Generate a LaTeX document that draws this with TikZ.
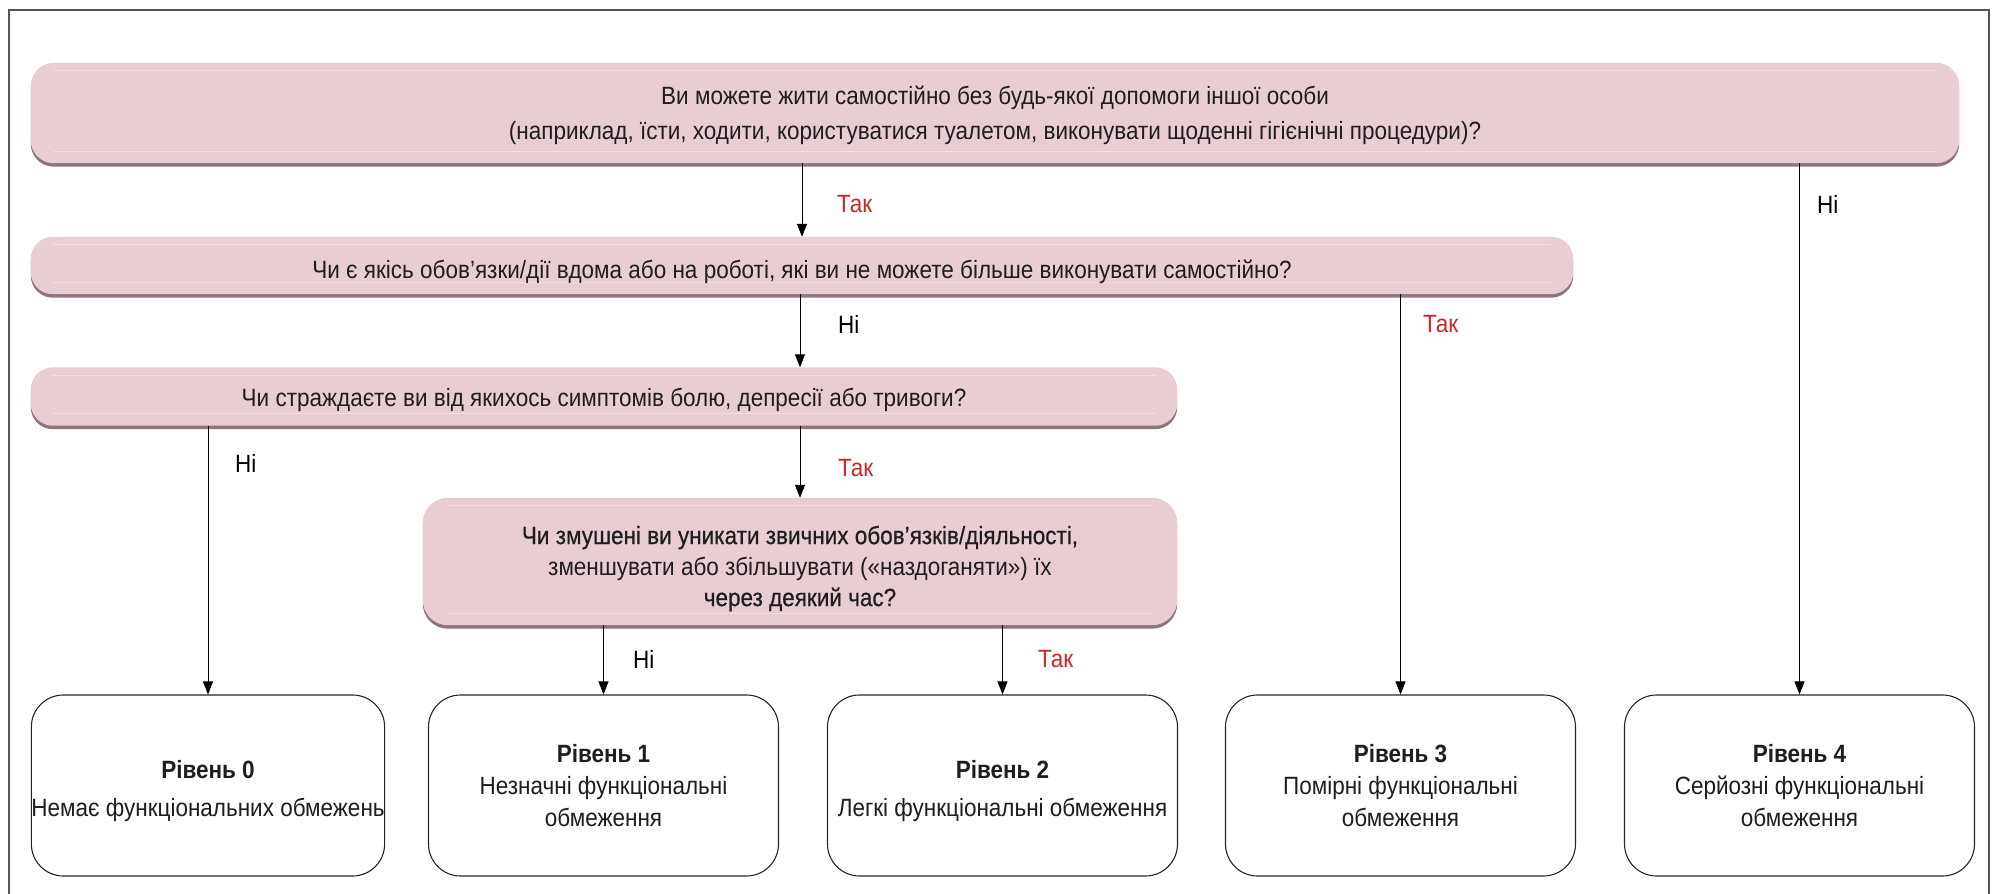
\documentclass[tikz,border=0pt]{standalone}
\usepackage{fontspec}
\setmainfont{Liberation Sans}[FakeStretch=0.9]
\newfontfamily\medfont{Liberation Sans}[FakeStretch=0.9,FakeBold=0.6]
\usetikzlibrary{arrows.meta,backgrounds}
\definecolor{qpink}{RGB}{232,206,211}
\definecolor{qshadow}{RGB}{140,118,123}
\definecolor{qhl}{RGB}{241,223,227}
\definecolor{txt}{RGB}{30,30,30}
\definecolor{yesred}{RGB}{205,38,38}
\definecolor{framecol}{RGB}{85,85,85}
\begin{document}
\begin{tikzpicture}[x=1pt,y=-1pt,
  every node/.style={text=txt},
  qbox/.style={inner sep=0pt},
  qtext/.style={inner sep=0pt, align=center, font=\fontsize{25}{31}\selectfont},
  lbox/.style={draw=black!85, line width=1.1pt, fill=white, rounded corners=32pt,
     minimum width=350pt, minimum height=181pt, inner sep=0pt, align=center,
     font=\fontsize{25}{32}\selectfont},
  arr/.style={draw=black, line width=1pt, -{Triangle[length=13pt,width=10pt]}},
  lab/.style={anchor=west, inner sep=0pt, font=\fontsize{25}{30}\selectfont},
  yes/.style={lab, text=yesred},
  no/.style={lab, text=black}
]
\useasboundingbox (0,0) rectangle (2006,894);
\draw[framecol, line width=1.6pt] (9,894) -- (9,10) -- (1989,10) -- (1989,894);

% question boxes (shapes)
\node[qbox, minimum width=1928pt, minimum height=100pt] (A) at (995,113) {};
\node[qbox, minimum width=1542pt, minimum height=57pt] (B) at (802,265.5) {};
\node[qbox, minimum width=1146pt, minimum height=58pt] (C) at (604,396.5) {};
\node[qbox, minimum width=754pt, minimum height=127pt] (D) at (800,561.5) {};

% question texts
\node[qtext, font=\fontsize{25}{35}\selectfont] (Atext) at ([yshift=-2.5pt]A.center)
  {Ви можете жити самостійно без будь-якої допомоги іншої особи\\(наприклад, їсти, ходити, користуватися туалетом, виконувати щоденні гігієнічні процедури)?};
\node[qtext] (Btext) at ([yshift=-6pt]B.center)
  {Чи є якісь обов’язки/дії вдома або на роботі, які ви не можете більше виконувати самостійно?};
\node[qtext] (Ctext) at ([yshift=-3pt]C.center)
  {Чи страждаєте ви від якихось симптомів болю, депресії або тривоги?};
\node[qtext] (Dtext) at ([yshift=-7pt]D.center)
  {{\medfont Чи змушені ви уникати звичних обов’язків/діяльності,}\\зменшувати або збільшувати («наздоганяти») їх\\{\medfont через деякий час?}};

\begin{pgfonlayer}{background}
\foreach \n/\r in {A/23,B/22,C/22,D/25}{
  \fill[qshadow, rounded corners=\r pt] ([yshift=-3.5pt]\n.north west) rectangle ([yshift=-3.5pt]\n.south east);
  \fill[qpink, rounded corners=\r pt] (\n.north west) rectangle (\n.south east);
  \draw[qhl, line width=1.2pt] ([xshift=\r pt, yshift=-8pt]\n.north west) -- ([xshift=-\r pt, yshift=-8pt]\n.north east);
  \draw[qhl, line width=1.2pt] ([xshift=\r pt, yshift=12pt]\n.south west) -- ([xshift=-\r pt, yshift=12pt]\n.south east);
}
\end{pgfonlayer}

% level boxes
\node[lbox] (L0) at (208,785.5) {\rule{0pt}{30pt}\textbf{Рівень 0}\\[6pt]Немає функціональних обмежень};
\node[lbox] (L1) at (603.5,785.5) {\textbf{Рівень 1}\\Незначні функціональні\\обмеження};
\node[lbox] (L2) at (1002.5,785.5) {\rule{0pt}{30pt}\textbf{Рівень 2}\\[6pt]Легкі функціональні обмеження};
\node[lbox] (L3) at (1400.5,785.5) {\textbf{Рівень 3}\\Помірні функціональні\\обмеження};
\node[lbox] (L4) at (1799.5,785.5) {\textbf{Рівень 4}\\Серйозні функціональні\\обмеження};

% connectors
\draw[arr] (A.south -| B.north) -- (B.north);
\draw[arr] (A.south -| L4.north) -- (L4.north);
\draw[arr] (B.south -| D.north) -- (C.north -| D.north);
\draw[arr] (B.south -| L3.north) -- (L3.north);
\draw[arr] (C.south -| L0.north) -- (L0.north);
\draw[arr] (C.south -| D.north) -- (D.north);
\draw[arr] (D.south -| L1.north) -- (L1.north);
\draw[arr] (D.south -| L2.north) -- (L2.north);

% labels
\node[yes] (t1) at (837,204) {Так};
\node[no]  (n1) at (1817,204) {Ні};
\node[no]  (n2) at (838,324) {Ні};
\node[yes] (t2) at (1423,324) {Так};
\node[no]  (n3) at (235,463) {Ні};
\node[yes] (t3) at (838,468) {Так};
\node[no]  (n4) at (633,659) {Ні};
\node[yes] (t4) at (1038,659) {Так};
\end{tikzpicture}
\end{document}
